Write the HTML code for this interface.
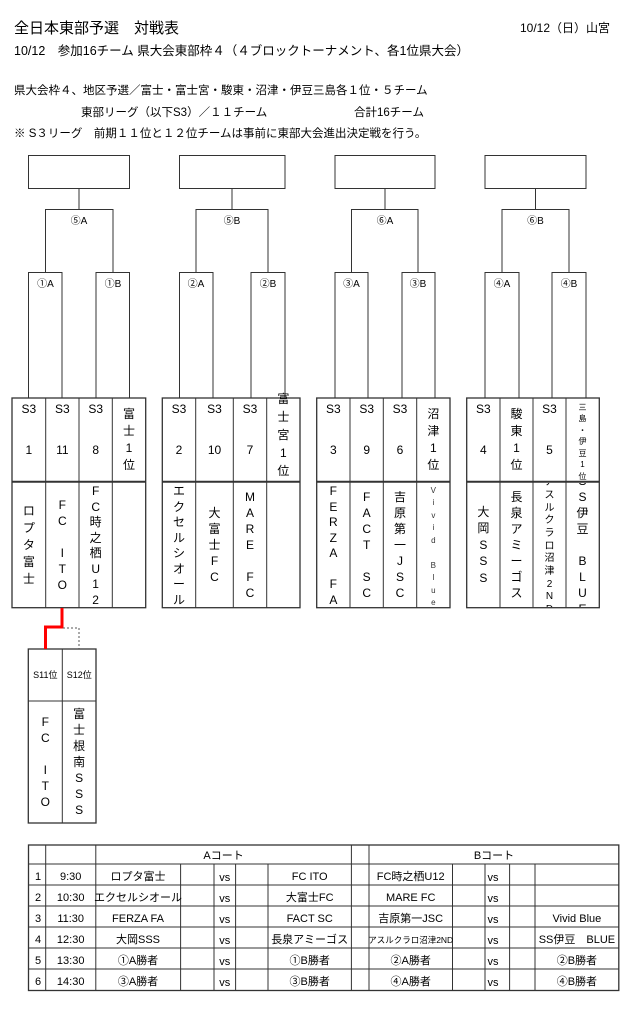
<!DOCTYPE html>
<html><head><meta charset="utf-8">
<style>
body{margin:0;background:#fff;}
#p{position:relative;width:636px;height:1017px;overflow:hidden;font-family:"Liberation Sans","Noto Sans CJK JP",sans-serif;color:#000;}
svg{position:absolute;left:0;top:0;}
.t{position:absolute;white-space:nowrap;}
.v{position:absolute;display:flex;flex-direction:column;align-items:center;justify-content:center;overflow:hidden;font-size:12px;line-height:16px;text-align:center;}
.v span{display:block;height:16px;flex-shrink:0;white-space:pre;}
</style></head><body><div id="p">
<div class="t" style="left:14px;top:17px;font-size:15px;">全日本東部予選　対戦表</div>
<div class="t" style="left:520px;top:19px;font-size:12px;">10/12（日）山宮</div>
<div class="t" style="left:14px;top:40px;font-size:12.5px;">10/12　参加16チーム 県大会東部枠４（４ブロックトーナメント、各1位県大会）</div>
<div class="t" style="left:14px;top:82px;font-size:11.5px;">県大会枠４、地区予選／富士・富士宮・駿東・沼津・伊豆三島各１位・５チーム</div>
<div class="t" style="left:81px;top:104px;font-size:11.5px;">東部リーグ（以下S3）／１１チーム</div>
<div class="t" style="left:354px;top:104px;font-size:11.5px;">合計16チーム</div>
<div class="t" style="left:14px;top:125px;font-size:11.5px;">※ S３リーグ　前期１１位と１２位チームは事前に東部大会進出決定戦を行う。</div>

<svg width="636" height="1017" font-family="Liberation Sans, Noto Sans CJK JP, sans-serif" font-size="11">
<g stroke="#333" stroke-width="1" fill="none">
<rect x="28.5" y="155.5" width="101" height="33"/>
<path d="M79 188.5V209.5M45.5 272V209.5H113V272M28.5 398V272.5H62V398M96 398V272.5H129.5V398"/>
<rect x="179.5" y="155.5" width="105.5" height="33"/>
<path d="M232 188.5V209.5M196 272V209.5H268V272M179.5 398V272.5H213V398M251 398V272.5H285V398"/>
<rect x="335" y="155.5" width="100" height="33"/>
<path d="M385 188.5V209.5M351.5 272V209.5H418V272M335 398V272.5H368V398M402 398V272.5H435V398"/>
<rect x="485" y="155.5" width="101" height="33"/>
<path d="M535.5 188.5V209.5M502 272V209.5H569V272M485 398V272.5H519V398M552 398V272.5H586V398"/>
</g>
<g stroke="#333" fill="none">
<rect x="12" y="398" width="133.7" height="209.7" stroke-width="1.3"/>
<path d="M45.7 398V607.7M79 398V607.7M112.3 398V607.7" stroke-width="1"/>
<path d="M12 481.7H145.7" stroke-width="2"/>
<rect x="162.3" y="398" width="137.7" height="209.7" stroke-width="1.3"/>
<path d="M195.7 398V607.7M233.3 398V607.7M266.7 398V607.7"/>
<path d="M162.3 481.7H300" stroke-width="2"/>
<rect x="316.7" y="398" width="133.3" height="209.7" stroke-width="1.3"/>
<path d="M350 398V607.7M383.3 398V607.7M416.7 398V607.7"/>
<path d="M316.7 481.7H450" stroke-width="2"/>
<rect x="466.7" y="398" width="132.6" height="209.7" stroke-width="1.3"/>
<path d="M500 398V607.7M533 398V607.7M566 398V607.7"/>
<path d="M466.7 481.7H599.3" stroke-width="2"/>
<rect x="28.3" y="649" width="67.7" height="174" stroke-width="1.3"/>
<path d="M62.3 649V823M28.3 701H96"/>
</g>
<path d="M62 608V627H45.5V649" stroke="#f00" stroke-width="3" fill="none"/>
<path d="M63 628H79V649" stroke="#555" stroke-width="1" stroke-dasharray="2,2" fill="none"/>
<g text-anchor="middle" font-size="10">
<text x="79" y="224">⑤A</text><text x="232" y="224">⑤B</text><text x="385" y="224">⑥A</text><text x="535.5" y="224">⑥B</text>
<text x="45.5" y="287">①A</text><text x="113" y="287">①B</text>
<text x="196" y="287">②A</text><text x="268" y="287">②B</text>
<text x="351.5" y="287">③A</text><text x="418" y="287">③B</text>
<text x="502" y="287">④A</text><text x="569" y="287">④B</text>
</g>
<g text-anchor="middle" font-size="12">
<text x="28.8" y="413">S3</text><text x="62.3" y="413">S3</text><text x="95.7" y="413">S3</text>
<text x="28.8" y="454">1</text><text x="62.3" y="454">11</text><text x="95.7" y="454">8</text>
<text x="179" y="413">S3</text><text x="214.5" y="413">S3</text><text x="250" y="413">S3</text>
<text x="179" y="454">2</text><text x="214.5" y="454">10</text><text x="250" y="454">7</text>
<text x="333.3" y="413">S3</text><text x="366.7" y="413">S3</text><text x="400" y="413">S3</text>
<text x="333.3" y="454">3</text><text x="366.7" y="454">9</text><text x="400" y="454">6</text>
<text x="483.3" y="413">S3</text><text x="549.5" y="413">S3</text>
<text x="483.3" y="454">4</text><text x="549.5" y="454">5</text>
</g>
<g text-anchor="middle" font-size="9">
<text x="45.3" y="678">S11位</text><text x="79.2" y="678">S12位</text>
</g>
<g stroke="#333" fill="none" stroke-width="1">
<rect x="28.5" y="845" width="590.3" height="145.5" stroke-width="1.3"/>
<path d="M28.5 864H618.8M28.5 885H618.8M28.5 906H618.8M28.5 927H618.8M28.5 948H618.8M28.5 969H618.8"/>
<path d="M45.7 845V990.5M95.8 845V990.5M351.4 845V990.5M369 845V990.5"/>
<path d="M180.6 864V990.5M214 864V990.5M235.6 864V990.5M268 864V990.5M452.5 864V990.5M485 864V990.5M509.6 864V990.5M535 864V990.5"/>
</g>
<g text-anchor="middle" font-size="11">
<text x="223.6" y="859">Aコート</text><text x="494" y="859">Bコート</text>
<text x="38" y="880">1</text><text x="38" y="901">2</text><text x="38" y="922">3</text><text x="38" y="943">4</text><text x="38" y="964">5</text><text x="38" y="985">6</text>
<text x="70.7" y="880">9:30</text><text x="70.7" y="901">10:30</text><text x="70.7" y="922">11:30</text><text x="70.7" y="943">12:30</text><text x="70.7" y="964">13:30</text><text x="70.7" y="985">14:30</text>
<text x="138" y="880">ロプタ富士</text><text x="138" y="901">エクセルシオール</text><text x="138" y="922">FERZA FA</text><text x="138" y="943">大岡SSS</text><text x="138" y="964">①A勝者</text><text x="138" y="985">③A勝者</text>
<text x="224.8" y="881">vs</text><text x="224.8" y="902">vs</text><text x="224.8" y="923">vs</text><text x="224.8" y="944">vs</text><text x="224.8" y="965">vs</text><text x="224.8" y="986">vs</text>
<text x="309.7" y="880">FC ITO</text><text x="309.7" y="901">大富士FC</text><text x="309.7" y="922">FACT SC</text><text x="309.7" y="943">長泉アミーゴス</text><text x="309.7" y="964">①B勝者</text><text x="309.7" y="985">③B勝者</text>
<text x="410.7" y="880">FC時之栖U12</text><text x="410.7" y="901">MARE FC</text><text x="410.7" y="922">吉原第一JSC</text><text x="410.7" y="943" font-size="8.5">アスルクラロ沼津2ND</text><text x="410.7" y="964">②A勝者</text><text x="410.7" y="985">④A勝者</text>
<text x="493" y="881">vs</text><text x="493" y="902">vs</text><text x="493" y="923">vs</text><text x="493" y="944">vs</text><text x="493" y="965">vs</text><text x="493" y="986">vs</text>
<text x="576.9" y="922">Vivid Blue</text><text x="576.9" y="943">SS伊豆　BLUE</text><text x="576.9" y="964">②B勝者</text><text x="576.9" y="985">④B勝者</text>
</g>
</svg>

<div class="v" style="left:112.3px;top:399px;width:33.4px;height:82px;"><span style="height:17px">富</span><span style="height:17px">士</span><span style="height:17px">1</span><span style="height:17px">位</span></div>
<div class="v" style="left:266.7px;top:390px;width:33.3px;height:91px;"><span style="height:18px">富</span><span style="height:18px">士</span><span style="height:18px">宮</span><span style="height:18px">1</span><span style="height:18px">位</span></div>
<div class="v" style="left:416.7px;top:399px;width:33.3px;height:82px;"><span style="height:17px">沼</span><span style="height:17px">津</span><span style="height:17px">1</span><span style="height:17px">位</span></div>
<div class="v" style="left:500px;top:399px;width:33px;height:82px;"><span style="height:17px">駿</span><span style="height:17px">東</span><span style="height:17px">1</span><span style="height:17px">位</span></div>
<div class="v" style="left:566px;top:399px;width:33px;height:82px;font-size:8px;"><span style="height:11.5px">三</span><span style="height:11.5px">島</span><span style="height:11.5px">・</span><span style="height:11.5px">伊</span><span style="height:11.5px">豆</span><span style="height:11.5px">1</span><span style="height:11.5px">位</span></div>

<div class="v" style="left:12px;top:483px;width:33.7px;height:124px;"><span style="height:17px">ロ</span><span style="height:17px">プ</span><span style="height:17px">タ</span><span style="height:17px">富</span><span style="height:17px">士</span></div>
<div class="v" style="left:45.7px;top:483px;width:33.3px;height:124px;"><span>F</span><span>C</span><span> </span><span>I</span><span>T</span><span>O</span></div>
<div class="v" style="left:79px;top:483px;width:33.3px;height:124px;"><span style="height:15.5px">F</span><span style="height:15.5px">C</span><span style="height:15.5px">時</span><span style="height:15.5px">之</span><span style="height:15.5px">栖</span><span style="height:15.5px">U</span><span style="height:15.5px">1</span><span style="height:15.5px">2</span></div>

<div class="v" style="left:162.3px;top:483px;width:33.4px;height:124px;"><span style="height:15.5px">エ</span><span style="height:15.5px">ク</span><span style="height:15.5px">セ</span><span style="height:15.5px">ル</span><span style="height:15.5px">シ</span><span style="height:15.5px">オ</span><span style="height:15.5px">ー</span><span style="height:15.5px">ル</span></div>
<div class="v" style="left:195.7px;top:483px;width:37.6px;height:124px;"><span>大</span><span>富</span><span>士</span><span>F</span><span>C</span></div>
<div class="v" style="left:233.3px;top:483px;width:33.4px;height:124px;"><span>M</span><span>A</span><span>R</span><span>E</span><span> </span><span>F</span><span>C</span></div>

<div class="v" style="left:316.7px;top:483px;width:33.3px;height:124px;"><span style="height:15.5px">F</span><span style="height:15.5px">E</span><span style="height:15.5px">R</span><span style="height:15.5px">Z</span><span style="height:15.5px">A</span><span style="height:15.5px"> </span><span style="height:15.5px">F</span><span style="height:15.5px">A</span></div>
<div class="v" style="left:350px;top:483px;width:33.3px;height:124px;"><span>F</span><span>A</span><span>C</span><span>T</span><span> </span><span>S</span><span>C</span></div>
<div class="v" style="left:383.3px;top:483px;width:33.4px;height:124px;"><span>吉</span><span>原</span><span>第</span><span>一</span><span>J</span><span>S</span><span>C</span></div>
<div class="v" style="left:416.7px;top:483px;width:33.3px;height:124px;font-size:8px;color:#333;"><span style="height:12.5px">V</span><span style="height:12.5px">i</span><span style="height:12.5px">v</span><span style="height:12.5px">i</span><span style="height:12.5px">d</span><span style="height:12.5px"> </span><span style="height:12.5px">B</span><span style="height:12.5px">l</span><span style="height:12.5px">u</span><span style="height:12.5px">e</span></div>

<div class="v" style="left:466.7px;top:483px;width:33.3px;height:124px;"><span style="height:16.5px">大</span><span style="height:16.5px">岡</span><span style="height:16.5px">S</span><span style="height:16.5px">S</span><span style="height:16.5px">S</span></div>
<div class="v" style="left:500px;top:483px;width:33px;height:124px;"><span>長</span><span>泉</span><span>ア</span><span>ミ</span><span>ー</span><span>ゴ</span><span>ス</span></div>
<div class="v" style="left:533px;top:483px;width:33px;height:124px;font-size:10px;"><span style="height:12.7px">ア</span><span style="height:12.7px">ス</span><span style="height:12.7px">ル</span><span style="height:12.7px">ク</span><span style="height:12.7px">ラ</span><span style="height:12.7px">ロ</span><span style="height:12.7px">沼</span><span style="height:12.7px">津</span><span style="height:12.7px">2</span><span style="height:12.7px">N</span><span style="height:12.7px">D</span></div>
<div class="v" style="left:566px;top:483px;width:33px;height:124px;"><span>S</span><span>S</span><span>伊</span><span>豆</span><span> </span><span>B</span><span>L</span><span>U</span><span>E</span></div>

<div class="v" style="left:28.3px;top:702px;width:34px;height:120px;"><span>F</span><span>C</span><span> </span><span>I</span><span>T</span><span>O</span></div>
<div class="v" style="left:62.3px;top:702px;width:33.7px;height:120px;"><span>富</span><span>士</span><span>根</span><span>南</span><span>S</span><span>S</span><span>S</span></div>
</div></body></html>
